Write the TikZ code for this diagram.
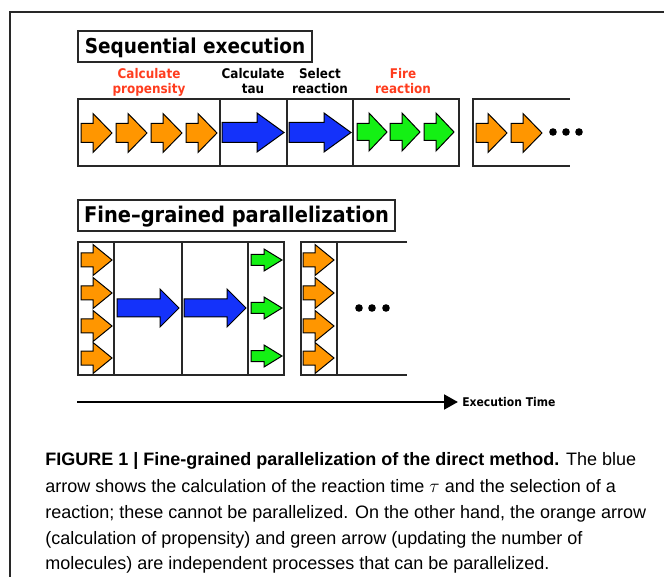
\documentclass[tikz,border=0pt]{standalone}
\usepackage{fontspec}
\setmainfont{Liberation Sans}
\newfontfamily\dfont[FakeStretch=0.9]{DejaVu Sans}
\newfontfamily\capfont{Liberation Sans}
\usetikzlibrary{arrows.meta}
\definecolor{aorange}{RGB}{255,150,0}
\definecolor{ablue}{RGB}{20,50,250}
\definecolor{agreen}{RGB}{20,240,20}
\definecolor{ared}{RGB}{255,60,30}
\definecolor{framec}{RGB}{40,40,40}
% #1 colour, #2 tail x, #3 head base x, #4 tip x, #5 centre y, #6 body half, #7 head half
\newcommand\blockarrow[7]{%
  \filldraw[fill=#1, draw=black, line width=0.75pt, line join=miter]
    (#2,#5-#6) -- (#3,#5-#6) -- (#3,#5-#7) -- (#4,#5) -- (#3,#5+#7)
    -- (#3,#5+#6) -- (#2,#5+#6) -- cycle;}
\begin{document}
\begin{tikzpicture}[x=0.75pt,y=-0.75pt,
  boxline/.style={draw=framec, line width=1.1pt},
  titletext/.style={font=\dfont\bfseries\fontsize{15.4}{18}\selectfont, inner sep=0pt, anchor=base},
  steplabel/.style={font=\dfont\bfseries\fontsize{10}{11.25}\selectfont, inner sep=0pt, align=center, anchor=north},
  captext/.style={font=\capfont\fontsize{13.5}{16}\selectfont, inner sep=0pt, anchor=base west}]
\useasboundingbox (0,0) rectangle (664,577);
% outer frame
\draw[draw=framec, line width=1pt] (10,577) -- (10,12) -- (664,12);

% ---------- Sequential execution ----------
\draw[boxline] (78,31) rectangle (312,62);
\node[titletext] (seqtitle) at (195,54) {Sequential execution};

\node[steplabel, text=ared] (lprop) at (149,68) {Calculate\\propensity};
\node[steplabel] (ltau) at (253,68) {Calculate\\tau};
\node[steplabel] (lsel) at (320,68) {Select\\reaction};
\node[steplabel, text=ared] (lfire) at (403,68) {Fire\\reaction};

\draw[boxline] (78,99) rectangle (459,166);
\draw[boxline] (220,99) -- (220,166);
\draw[boxline] (287,99) -- (287,166);
\draw[boxline] (353,99) -- (353,166);
\draw[boxline] (570,99) -- (473,99) -- (473,166) -- (570,166);

\blockarrow{aorange}{81}{93}{112}{133}{9.5}{19.5}
\blockarrow{aorange}{116}{128}{147}{133}{9.5}{19.5}
\blockarrow{aorange}{151}{163}{182}{133}{9.5}{19.5}
\blockarrow{aorange}{186}{198}{217}{133}{9.5}{19.5}
\blockarrow{ablue}{222}{257}{284}{132.5}{10}{19.5}
\blockarrow{ablue}{289}{324}{351}{132.5}{10}{19.5}
\blockarrow{agreen}{357}{369}{387}{132}{8.5}{19}
\blockarrow{agreen}{390}{402}{420}{132}{8.5}{19}
\blockarrow{agreen}{424}{436}{454}{132}{8.5}{19}
\blockarrow{aorange}{476}{488}{507}{133}{9.5}{19.5}
\blockarrow{aorange}{511}{523}{542}{133}{9.5}{19.5}
\fill (553,132) circle (3.8);
\fill (566,132) circle (3.8);
\fill (579,132) circle (3.8);

% ---------- Fine-grained parallelization ----------
\draw[boxline] (78,200) rectangle (395,231);
\node[titletext, font=\dfont\bfseries\fontsize{16.2}{18}\selectfont] (partitle) at (236.5,223) {Fine–grained parallelization};

\draw[boxline] (78,242) rectangle (284,375);
\draw[boxline] (114,242) -- (114,375);
\draw[boxline] (182,242) -- (182,375);
\draw[boxline] (248,242) -- (248,375);
\draw[boxline] (407,242) -- (301,242) -- (301,375) -- (407,375);
\draw[boxline] (337,242) -- (337,375);

\foreach \yy in {260,293,326,358}{
  \blockarrow{aorange}{81}{93}{112}{\yy}{7}{15.5}
  \blockarrow{aorange}{303}{315}{334}{\yy}{7}{15.5}
}
\blockarrow{ablue}{117}{160}{179}{308}{9}{19}
\blockarrow{ablue}{184}{227}{246}{308}{9}{19}
\foreach \yy in {260,308,356}{
  \blockarrow{agreen}{251}{264}{282}{\yy}{5.5}{11}
}
\fill (359,308) circle (3.8);
\fill (372,308) circle (3.8);
\fill (386,308) circle (3.8);

% ---------- Execution time ----------
\coordinate (etstart) at (77,402);
\node[font=\dfont\bfseries\fontsize{9}{10}\selectfont, inner sep=0pt, anchor=west] (etlabel) at (462,402) {Execution Time};
\draw[line width=2.2pt, -{Triangle[length=10.5pt,width=11pt]}] (etstart) -- ([xshift=-3pt]etlabel.west);

% ---------- Caption ----------
\node[captext] (cap1) at (45,465) {\textbf{FIGURE 1 | Fine-grained parallelization of the direct method.} The blue};
\node[captext] (cap2) at (45,492) {arrow shows the calculation of the reaction time $\tau$ and the selection of a};
\node[captext] (cap3) at (45,518) {reaction; these cannot be parallelized. On the other hand, the orange arrow};
\node[captext] (cap4) at (45,544) {(calculation of propensity) and green arrow (updating the number of};
\node[captext] (cap5) at (45,569) {molecules) are independent processes that can be parallelized.};
\end{tikzpicture}
\end{document}
